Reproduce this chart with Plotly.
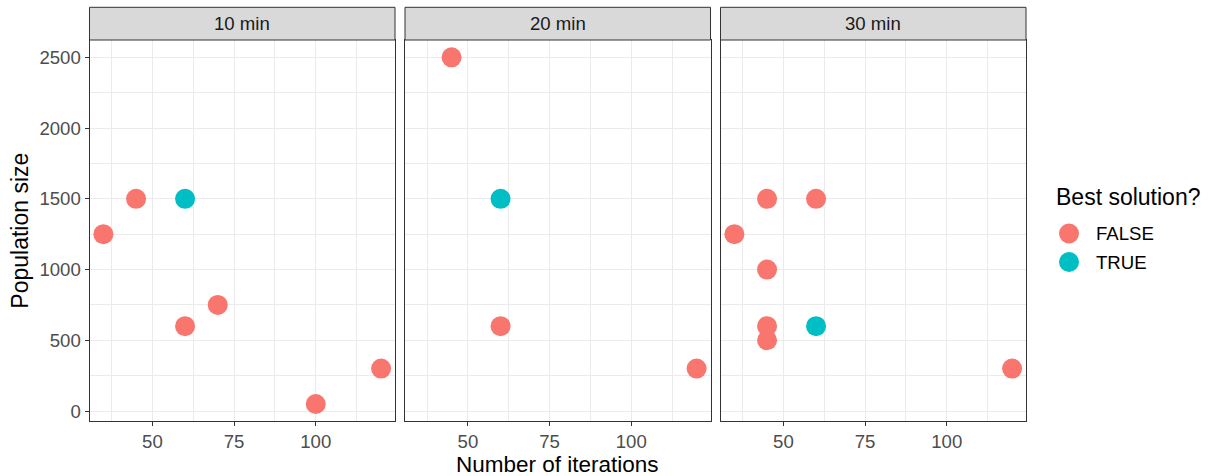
import plotly.graph_objects as go

W, H = 1208, 476

panels = ["10 min", "20 min", "30 min"]
iterations = [
    [35, 45, 60, 60, 70, 100, 120],
    [45, 60, 60, 120],
    [35, 45, 60, 45, 45, 45, 60, 120],
]
population = [
    [1250, 1500, 1500, 600, 750, 50, 300],
    [2500, 1500, 600, 300],
    [1250, 1500, 1500, 1000, 600, 500, 600, 300],
]
best = [
    [False, False, True, False, False, False, False],
    [False, True, False, False],
    [False, False, False, False, False, False, True, False],
]
x_ticks = [50, 75, 100]
y_ticks = [0, 500, 1000, 1500, 2000, 2500]
legend_labels = ["FALSE", "TRUE"]
colors = {False: "#F8766D", True: "#00BFC4"}

FONT = "Liberation Sans, Arial, sans-serif"

# panel pixel geometry
px_left = [89.5, 405.0, 720.5]
px_width = 305.5
plot_top, plot_bot = 40.0, 421.3
strip_top = 7.3

def fx(p):
    return p / W

def fy(p):
    return 1 - p / H

xr = [30.75, 124.25]
yr = [-72.5, 2622.5]

fig = go.Figure()
for i, name in enumerate(panels):
    ax = "" if i == 0 else str(i + 1)
    for flag in [False, True]:
        xs = [x for x, b in zip(iterations[i], best[i]) if b == flag]
        ys = [y for y, b in zip(population[i], best[i]) if b == flag]
        fig.add_trace(go.Scatter(
            x=xs, y=ys, mode="markers",
            marker=dict(size=20, color=colors[flag], line=dict(width=0)),
            name="TRUE" if flag else "FALSE",
            showlegend=False,
            xaxis="x" + ax, yaxis="y" + ax,
        ))
    axis_common = dict(
        showline=True, linecolor="#333333", linewidth=1, mirror=True,
        ticks="outside", ticklen=4, tickcolor="#333333", tickwidth=1,
        showgrid=True, gridcolor="#EBEBEB", gridwidth=1.1,
        zeroline=False,
        tickfont=dict(family=FONT, size=18.6, color="#4D4D4D"),
    )
    fig.layout["xaxis" + ax] = dict(
        axis_common, domain=[fx(px_left[i]), fx(px_left[i] + px_width)],
        range=xr, tickvals=x_ticks, anchor="y" + ax,
        ticklabelstandoff=-1,
        minor=dict(tickvals=[37.5, 62.5, 87.5, 112.5], showgrid=True,
                   gridcolor="#EBEBEB", gridwidth=0.55, ticks=""),
    )
    fig.layout["yaxis" + ax] = dict(
        axis_common, domain=[fy(plot_bot), fy(plot_top)],
        range=yr, tickvals=y_ticks, anchor="x" + ax,
        showticklabels=(i == 0),
        ticks="outside" if i == 0 else "",
        minor=dict(tickvals=[250, 750, 1250, 1750, 2250], showgrid=True,
                   gridcolor="#EBEBEB", gridwidth=0.55, ticks=""),
    )
    # strip
    fig.add_shape(type="rect", xref="paper", yref="paper",
                  x0=fx(px_left[i]), x1=fx(px_left[i] + px_width),
                  y0=fy(plot_top), y1=fy(strip_top),
                  fillcolor="#D9D9D9", line=dict(color="#333333", width=1),
                  layer="above")
    fig.add_annotation(text=name, xref="paper", yref="paper",
                       x=fx(px_left[i] + px_width / 2), y=fy((plot_top + strip_top) / 2),
                       showarrow=False, xanchor="center", yanchor="middle",
                       font=dict(family=FONT, size=18.6, color="#1A1A1A"))

fig.add_annotation(text="Number of iterations", xref="paper", yref="paper",
                   x=fx((px_left[0] + px_left[2] + px_width) / 2), y=fy(464),
                   showarrow=False, xanchor="center", yanchor="middle", borderpad=0,
                   font=dict(family=FONT, size=22.5, color="black"))
fig.add_annotation(text="Population size", xref="paper", yref="paper",
                   x=fx(20), y=fy((plot_top + plot_bot) / 2), textangle=-90,
                   showarrow=False, xanchor="center", yanchor="middle",
                   font=dict(family=FONT, size=23, color="black"))

# legend (drawn manually to keep key size equal to the plotted points)
fig.add_annotation(text="Best solution?", xref="paper", yref="paper",
                   x=fx(1053.5), y=fy(196.5), showarrow=False,
                   xanchor="left", yanchor="middle",
                   font=dict(family=FONT, size=23, color="black"))
for k, flag in enumerate([False, True]):
    cy = 233.5 + k * 28.5
    cx = 1069
    fig.add_shape(type="circle", xref="paper", yref="paper",
                  x0=fx(cx - 10), x1=fx(cx + 10), y0=fy(cy + 10), y1=fy(cy - 10),
                  fillcolor=colors[flag], line=dict(width=0))
    fig.add_annotation(text=legend_labels[k], xref="paper", yref="paper",
                       x=fx(1093.5), y=fy(cy), showarrow=False,
                       xanchor="left", yanchor="middle",
                       font=dict(family=FONT, size=18.6, color="black"))

fig.update_layout(
    width=W, height=H, margin=dict(l=0, r=0, t=0, b=0),
    paper_bgcolor="white", plot_bgcolor="white",
    showlegend=False,
)

fig.write_html("out.html")
